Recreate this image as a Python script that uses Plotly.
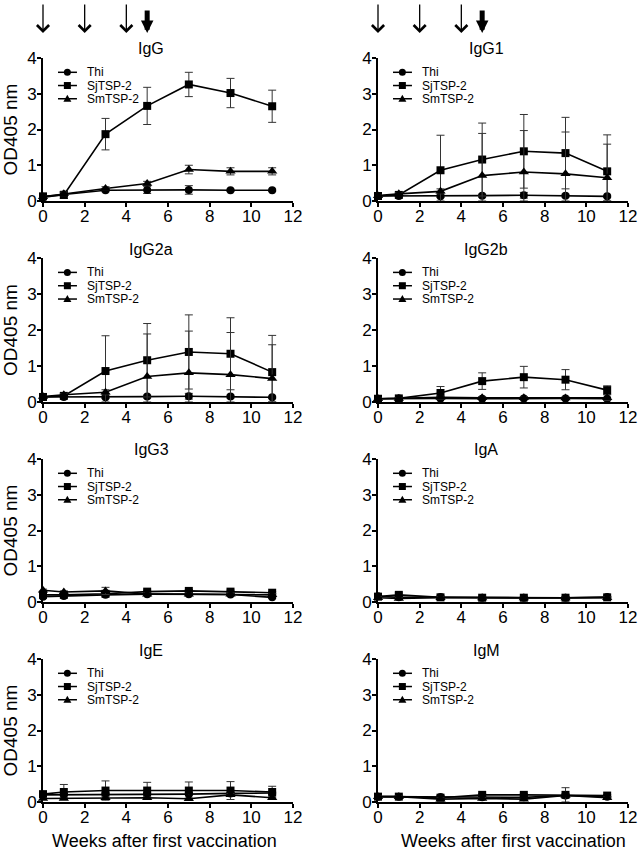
import numpy as np
import plotly.graph_objects as go

weeks = [0, 1, 3, 5, 7, 9, 11]
groups = ["Thi", "SjTSP-2", "SmTSP-2"]
symbols = ["circle", "square", "triangle-up"]
panels = ["IgG", "IgG1", "IgG2a", "IgG2b", "IgG3", "IgA", "IgE", "IgM"]

# OD405 means, one row per group (Thi, SjTSP-2, SmTSP-2)
igg = [[0.10, 0.18, 0.30, 0.31, 0.31, 0.30, 0.30],
       [0.13, 0.17, 1.87, 2.66, 3.26, 3.02, 2.65],
       [0.12, 0.20, 0.35, 0.49, 0.88, 0.83, 0.83]]
igg_sd = [[0.02, 0.05, 0.04, 0.10, 0.12, 0.03, 0.03],
          [0.03, 0.10, 0.44, 0.52, 0.34, 0.41, 0.45],
          [0.02, 0.05, 0.05, 0.06, 0.12, 0.10, 0.10]]

igg1 = [[0.14, 0.14, 0.13, 0.15, 0.16, 0.15, 0.13],
        [0.14, 0.17, 0.86, 1.16, 1.39, 1.34, 0.83],
        [0.15, 0.20, 0.27, 0.71, 0.81, 0.76, 0.65]]
igg1_sd = [[0.02, 0.02, 0.03, 0.04, 0.08, 0.04, 0.03],
           [0.02, 0.03, 0.98, 1.02, 1.03, 1.00, 1.02],
           [0.02, 0.03, 0.07, 1.18, 1.16, 1.17, 0.94]]

igg2a = [[0.14, 0.14, 0.13, 0.15, 0.16, 0.15, 0.13],
         [0.14, 0.17, 0.86, 1.16, 1.39, 1.34, 0.83],
         [0.15, 0.20, 0.27, 0.71, 0.81, 0.76, 0.65]]
igg2a_sd = [[0.02, 0.02, 0.03, 0.04, 0.08, 0.04, 0.03],
            [0.02, 0.03, 0.98, 1.02, 1.03, 1.00, 1.02],
            [0.02, 0.03, 0.07, 1.18, 1.16, 1.17, 0.94]]

igg2b = [[0.09, 0.10, 0.10, 0.09, 0.10, 0.10, 0.09],
         [0.09, 0.10, 0.25, 0.58, 0.69, 0.62, 0.33],
         [0.09, 0.10, 0.13, 0.12, 0.12, 0.11, 0.12]]
igg2b_sd = [[0.02, 0.02, 0.02, 0.02, 0.02, 0.02, 0.02],
            [0.02, 0.03, 0.18, 0.23, 0.30, 0.28, 0.12],
            [0.02, 0.02, 0.03, 0.03, 0.03, 0.03, 0.08]]

igg3 = [[0.15, 0.17, 0.20, 0.22, 0.22, 0.21, 0.13],
        [0.20, 0.20, 0.23, 0.29, 0.31, 0.29, 0.26],
        [0.33, 0.28, 0.31, 0.22, 0.22, 0.22, 0.20]]
igg3_sd = [[0.02, 0.02, 0.03, 0.03, 0.03, 0.03, 0.03],
           [0.03, 0.03, 0.04, 0.04, 0.04, 0.04, 0.03],
           [0.03, 0.03, 0.10, 0.03, 0.03, 0.03, 0.03]]

iga = [[0.16, 0.13, 0.14, 0.12, 0.12, 0.12, 0.14],
       [0.15, 0.20, 0.13, 0.12, 0.12, 0.12, 0.13],
       [0.12, 0.10, 0.12, 0.11, 0.11, 0.11, 0.12]]
iga_sd = [[0.02, 0.02, 0.02, 0.02, 0.02, 0.02, 0.02],
          [0.02, 0.05, 0.02, 0.02, 0.02, 0.02, 0.02],
          [0.02, 0.02, 0.02, 0.02, 0.02, 0.02, 0.02]]

ige = [[0.20, 0.20, 0.22, 0.22, 0.22, 0.24, 0.25],
       [0.22, 0.28, 0.32, 0.32, 0.32, 0.32, 0.28],
       [0.10, 0.10, 0.12, 0.12, 0.09, 0.20, 0.12]]
ige_sd = [[0.03, 0.03, 0.03, 0.03, 0.03, 0.03, 0.03],
          [0.04, 0.21, 0.27, 0.23, 0.24, 0.25, 0.16],
          [0.02, 0.02, 0.03, 0.03, 0.02, 0.03, 0.03]]

igm = [[0.15, 0.15, 0.14, 0.13, 0.13, 0.18, 0.15],
       [0.15, 0.15, 0.12, 0.20, 0.20, 0.20, 0.18],
       [0.15, 0.15, 0.08, 0.10, 0.08, 0.18, 0.12]]
igm_sd = [[0.02, 0.02, 0.02, 0.02, 0.02, 0.02, 0.02],
          [0.02, 0.02, 0.05, 0.03, 0.03, 0.03, 0.03],
          [0.02, 0.02, 0.03, 0.02, 0.02, 0.22, 0.02]]

means = [igg, igg1, igg2a, igg2b, igg3, iga, ige, igm]
sds = [igg_sd, igg1_sd, igg2a_sd, igg2b_sd, igg3_sd, iga_sd, ige_sd, igm_sd]

# vaccination arrows (weeks): thin = immunisations, thick = challenge
vacc_weeks = [0, 2, 4]
challenge_week = 5

W, H = 641, 852
FONT = "Arial, Liberation Sans, sans-serif"
col_x = [(43, 293), (378, 628)]
row_y = [(58, 201), (258, 402), (459, 602), (659, 802)]

fig = go.Figure()
annotations = []
shapes = []

for i, name in enumerate(panels):
    r, c = divmod(i, 2)
    n = i + 1
    xa = "x" if n == 1 else f"x{n}"
    ya = "y" if n == 1 else f"y{n}"
    x0, x1 = col_x[c]
    ytop, ybot = row_y[r]
    axis_style = dict(showline=True, linecolor="black", linewidth=1.8, ticks="outside",
                      ticklen=4, tickwidth=1.6, tickcolor="black", showgrid=False,
                      zeroline=False, automargin=False,
                      tickfont=dict(family=FONT, size=17, color="black"))
    fig.layout[f"xaxis{'' if n == 1 else n}"] = dict(
        domain=[x0 / W, x1 / W], anchor=ya, range=[0, 12], ticklabelstandoff=-5,
        tickvals=[0, 2, 4, 6, 8, 10, 12], **axis_style)
    fig.layout[f"yaxis{'' if n == 1 else n}"] = dict(
        domain=[1 - ybot / H, 1 - ytop / H], anchor=xa, range=[0, 4], ticklabelstandoff=-3,
        tickvals=[0, 1, 2, 3, 4], **axis_style)

    for g in range(3):
        m = np.array(means[i][g])
        s = np.array(sds[i][g])
        fig.add_trace(go.Scatter(
            x=weeks, y=m, xaxis=xa, yaxis=ya, mode="lines+markers", name=groups[g],
            showlegend=False, cliponaxis=False,
            line=dict(color="black", width=1.6),
            marker=dict(symbol=symbols[g], size=9 if g == 2 else 8, color="black"),
            error_y=dict(type="data", array=s, arrayminus=np.minimum(s, m),
                         color="#333333", thickness=1, width=4)))

    # panel title
    annotations.append(dict(text=name, xref=xa, x=5.2, yref=f"{ya} domain", y=1,
                            yanchor="middle", yshift=9, showarrow=False,
                            font=dict(family=FONT, size=16, color="black")))

    # per-panel legend
    for g in range(3):
        ly = 3.6 - g * 0.37
        shapes.append(dict(type="line", xref=xa, yref=ya, x0=0.72, x1=1.63, y0=ly, y1=ly,
                           line=dict(color="black", width=1.5)))
        common = dict(xref=xa, yref=ya, xsizemode="pixel", ysizemode="pixel",
                      xanchor=1.17, yanchor=ly, fillcolor="black", line=dict(width=0))
        if g == 0:
            shapes.append(dict(type="circle", x0=-3.5, x1=3.5, y0=-3.5, y1=3.5, **common))
        elif g == 1:
            shapes.append(dict(type="rect", x0=-3.5, x1=3.5, y0=-3.5, y1=3.5, **common))
        else:
            shapes.append(dict(type="path", path="M -4,-3 L 4,-3 L 0,4 Z", **common))
        annotations.append(dict(text=groups[g], xref=xa, x=2.0, yref=ya, y=ly,
                                xanchor="left", yanchor="middle", showarrow=False,
                                font=dict(family=FONT, size=12, color="black")))

    if c == 0:
        annotations.append(dict(text="OD405 nm", textangle=-90, xref="paper", x=10 / W,
                                xanchor="center", yref=f"{ya} domain", y=0.5,
                                showarrow=False,
                                font=dict(family=FONT, size=19, color="black")))
    if r == 3:
        annotations.append(dict(text="Weeks after first vaccination", xref=f"{xa} domain",
                                x=0.484 if c == 0 else 0.54, xanchor="center",
                                yref="paper", y=1 - 841 / H, yanchor="middle",
                                showarrow=False,
                                font=dict(family=FONT, size=18, color="black")))

# arrows above top row
for xa in ["x", "x2"]:
    for wk in vacc_weeks:
        annotations.append(dict(text="", xref=xa, x=wk, yref="paper", y=1 - 33 / H,
                                showarrow=True, ax=0, ay=-30, arrowhead=4, arrowsize=1.8,
                                arrowwidth=1.3, arrowcolor="black"))
    annotations.append(dict(text="", xref=xa, x=challenge_week, yref="paper", y=1 - 33 / H,
                            showarrow=True, ax=0, ay=-24, arrowhead=2, arrowsize=0.5,
                            arrowwidth=5, arrowcolor="black"))

fig.update_layout(template="none", width=W, height=H, margin=dict(l=0, r=0, t=0, b=0),
                  paper_bgcolor="white", plot_bgcolor="white",
                  annotations=annotations, shapes=shapes, showlegend=False)

# the page's default body margin would shift the figure by 8 px
fig.write_html("out.html", config={"displayModeBar": False},
               post_script="document.body.style.margin = '0px';")
